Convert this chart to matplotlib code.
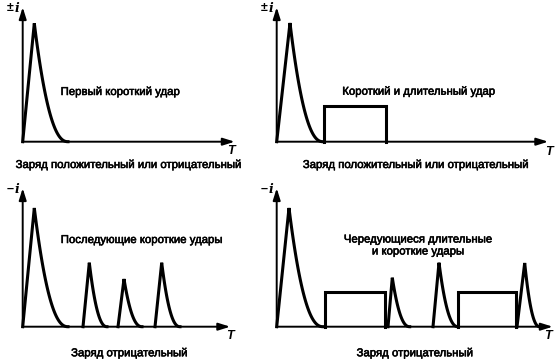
import numpy as np
import matplotlib.pyplot as plt
import matplotlib.patheffects as pe

plt.rcParams['font.family'] = ['Liberation Sans', 'DejaVu Sans']

# panel texts
axis_signs = ['±', '±', '–', '–']
titles = ['Первый короткий удар',
          'Короткий и длительный удар',
          'Последующие короткие удары',
          'Чередующиеся длительные\nи короткие удары']
captions = ['Заряд положительный или отрицательный',
            'Заряд положительный или отрицательный',
            'Заряд отрицательный',
            'Заряд отрицательный']

# short strokes: (start, peak time, peak value, end) in axis units
pulses_1 = [(0, 11.6, 118.4, 45.3)]
pulses_2 = [(0, 13.3, 118.7, 46.3)]
pulses_3 = [(0, 11.6, 118.7, 45.3), (60.3, 66.6, 64.0, 84.3),
            (95.3, 101.3, 47.7, 119.3), (132.3, 139.0, 64.0, 157.3)]
pulses_4 = [(0, 12.3, 118.7, 46.3), (111.3, 115.6, 49.0, 133.0),
            (156.3, 162.3, 64.0, 181.3), (240.3, 248.0, 63.7, 263.0)]

# long strokes: (start, end, level)
rects_1 = []
rects_2 = [(47.6, 109.0, 35.5)]
rects_3 = []
rects_4 = [(48.0, 108.6, 35.0), (181.3, 239.6, 35.0)]

pulses = [pulses_1, pulses_2, pulses_3, pulses_4]
rects = [rects_1, rects_2, rects_3, rects_4]

# axis extents
x_ends = [212, 271.5, 207.5, 276]
y_tops = [134.5, 134.5, 138.5, 138.5]

# layout (pixels)
W, H = 558, 361
origins = [(22.7, 141.7), (276.7, 141.7), (22.7, 326.7), (276.7, 326.7)]
title_pos = [(97.3, 49.7), (141.8, 50.0), (119.0, 86.7), (141.3, 81.2)]
caption_pos = [(105.6, -23.3), (138.8, -23.3), (106.5, -26.6), (138.0, -26.6)]
t_pos = [(208.0, -9.0), (272.0, -10.0), (207.3, -9.0), (271.0, -9.3)]

heavy = [pe.withStroke(linewidth=0.4, foreground='black')]

fig = plt.figure(figsize=(W / 100, H / 100), dpi=100)

for k in range(4):
    ox, oy = origins[k]
    ax = fig.add_axes([(ox - 24) / W, (H - (oy + 35)) / H, 306 / W, 176 / H])
    ax.set_xlim(-24, 282)
    ax.set_ylim(-35, 141)
    ax.axis('off')

    # axes with arrows
    arrow = dict(arrowstyle='-|>,head_length=0.7,head_width=0.22',
                 lw=1.4, color='black', shrinkA=0, shrinkB=0)
    ax.annotate('', xy=(x_ends[k], 0), xytext=(0, 0), arrowprops=arrow,
                annotation_clip=False)
    ax.annotate('', xy=(0, y_tops[k]), xytext=(0, 0), arrowprops=arrow,
                annotation_clip=False)

    # short strokes
    for (t0, tp, h, t1) in pulses[k]:
        tr = np.array([t0, tp])
        yr = np.array([0, h])
        td = np.linspace(tp, t1, 60)
        yd = h * ((t1 - td) / (t1 - tp)) ** 2.3
        ax.plot(np.concatenate([tr, td]), np.concatenate([yr, yd]),
                color='black', lw=2.2, solid_joinstyle='miter', clip_on=False)

    # long strokes
    for (s, e, lv) in rects[k]:
        ax.plot([s, s, e, e], [0, lv, lv, 0], color='black', lw=2.2,
                solid_joinstyle='miter', clip_on=False)

    # labels
    ax.text(-9.5, y_tops[k] - 1, axis_signs[k], ha='right', va='center',
            fontsize=9, fontweight='bold')
    ax.text(-3.5, y_tops[k] - 1, 'i', ha='right', va='center',
            fontsize=9, fontweight='bold', style='italic', family='DejaVu Serif')
    ax.text(t_pos[k][0], t_pos[k][1], 'T', ha='center', va='center',
            fontsize=9, fontweight='bold', style='italic')
    ax.text(title_pos[k][0], title_pos[k][1], titles[k], ha='center',
            va='center', fontsize=8.2, linespacing=1.25, path_effects=heavy)
    ax.text(caption_pos[k][0], caption_pos[k][1], captions[k], ha='center',
            va='center', fontsize=8.2, path_effects=heavy)

fig.savefig('out.png', dpi=100)
